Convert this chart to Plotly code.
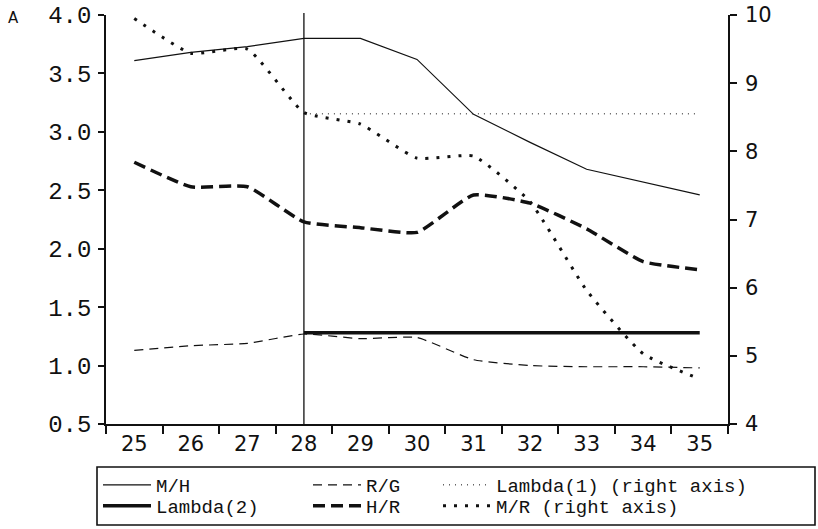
import plotly.graph_objects as go

years = [25, 26, 27, 28, 29, 30, 31, 32, 33, 34, 35]
mh = [3.61, 3.68, 3.73, 3.80, 3.80, 3.62, 3.15, 2.91, 2.68, 2.57, 2.46]
rg = [1.13, 1.17, 1.19, 1.27, 1.23, 1.24, 1.05, 1.00, 0.99, 0.99, 0.98]
hr = [2.74, 2.53, 2.53, 2.23, 2.18, 2.14, 2.46, 2.39, 2.17, 1.89, 1.82]
mr = [9.95, 9.44, 9.50, 8.57, 8.40, 7.90, 7.93, 7.26, 5.96, 5.03, 4.66]
lambda_years = [28, 29, 30, 31, 32, 33, 34, 35]
lambda1 = [8.55, 8.55, 8.55, 8.55, 8.55, 8.55, 8.55, 8.55]
lambda2 = [1.28, 1.28, 1.28, 1.28, 1.28, 1.28, 1.28, 1.28]
cutoff_year = 28

left_ticks = [0.5, 1.0, 1.5, 2.0, 2.5, 3.0, 3.5, 4.0]
left_labels = ["0.5", "1.0", "1.5", "2.0", "2.5", "3.0", "3.5", "4.0"]
right_ticks = [4, 5, 6, 7, 8, 9, 10]

cats = [str(y) for y in years]
lcats = [str(y) for y in lambda_years]

W, H = 818, 529
# plot area in page pixels
PX0, PX1, PY0, PY1 = 106, 728, 15, 424
L, R, T, B = PX0, W - PX1, PY0, H - PY1
pw, ph = W - L - R, H - T - B

def px_x(p):
    return (p - L) / pw

def px_y(p):
    return (H - B - p) / ph

BLACK = "#111111"
fig = go.Figure()

series = [
    ("M/H", cats, mh, "y", 1.2, "solid", "linear", "legend"),
    ("R/G", cats, rg, "y", 1.2, "9px,6px", "spline", "legend2"),
    ("Lambda(1) (right axis)", lcats, lambda1, "y2", 1.0, "1px,5px", "linear", "legend3"),
    ("Lambda(2)", lcats, lambda2, "y", 3.5, "solid", "linear", "legend4"),
    ("H/R", cats, hr, "y", 3.5, "12px,6px", "spline", "legend5"),
    ("M/R (right axis)", cats, mr, "y2", 3.0, "3px,8px", "spline", "legend6"),
]
for name, xs, ys, ax, w, dash, shp, lg in series:
    line = dict(color=BLACK, width=w, dash=dash, shape=shp)
    if shp == "spline":
        line["smoothing"] = 0.45
    fig.add_trace(go.Scatter(x=xs, y=ys, name=name, mode="lines", yaxis=ax,
                             line=line, legend=lg, showlegend=True))

col_x = [98, 308, 438]      # page pixels
row_y = [485, 506]          # page pixels
slots = ["legend", "legend2", "legend3", "legend4", "legend5", "legend6"]
leg_font = dict(family="Liberation Mono", size=19, color=BLACK)
legends = {}
for i, s in enumerate(slots):
    c = i % 3
    r = i // 3
    legends[s] = dict(x=col_x[c] / W, y=1 - row_y[r] / H,
                      xanchor="left", yanchor="middle",
                      xref="container", yref="container", font=leg_font,
                      bgcolor="rgba(0,0,0,0)", borderwidth=0, itemwidth=48, orientation="h")

fig.update_layout(
    width=W, height=H,
    margin=dict(l=L, r=R, t=T, b=B, pad=0, autoexpand=False),
    paper_bgcolor="white", plot_bgcolor="white",
    showlegend=True,
    **legends,
    xaxis=dict(type="category", categoryorder="array", categoryarray=cats,
               range=[-0.5, len(cats) - 0.5], tickson="boundaries",
               ticks="outside", ticklen=8, tickcolor=BLACK, tickwidth=1.5,
               showline=True, linecolor=BLACK, linewidth=1.5, showgrid=False, zeroline=False,
               automargin=False,
               tickfont=dict(family="DejaVu Sans", size=21, color=BLACK)),
    yaxis=dict(range=[0.5, 4.0], tickvals=left_ticks, ticktext=left_labels,
               ticks="outside", ticklen=6, tickcolor=BLACK, tickwidth=1.5,
               showline=True, linecolor=BLACK, linewidth=1.5, showgrid=False, zeroline=False,
               automargin=False,
               tickfont=dict(family="Liberation Mono", size=24, color=BLACK), ticklabelstandoff=2),
    yaxis2=dict(range=[4, 10], tickvals=right_ticks, overlaying="y", side="right",
                ticks="outside", ticklen=7, tickcolor=BLACK, tickwidth=1.5,
                showline=True, linecolor=BLACK, linewidth=1.5, showgrid=False, zeroline=False,
                automargin=False,
                tickfont=dict(family="DejaVu Sans", size=21, color=BLACK), ticklabelstandoff=4),
    shapes=[
        dict(type="line", xref="x", yref="paper", x0=cats.index(str(cutoff_year)),
             x1=cats.index(str(cutoff_year)), y0=0, y1=1.005, line=dict(color=BLACK, width=1.3)),
        dict(type="rect", xref="paper", yref="paper", x0=px_x(97), x1=px_x(815),
             y0=px_y(525), y1=px_y(467), line=dict(color=BLACK, width=1.6)),
    ],
    annotations=[
        dict(text="A", x=px_x(13), y=px_y(18), xref="paper", yref="paper", showarrow=False,
             xanchor="center", yanchor="middle", font=dict(family="DejaVu Sans", size=15, color=BLACK)),
    ],
)

fig.write_html("out.html", config={"displayModeBar": False},
               post_script="document.body.style.margin='0';document.body.style.padding='0';")
